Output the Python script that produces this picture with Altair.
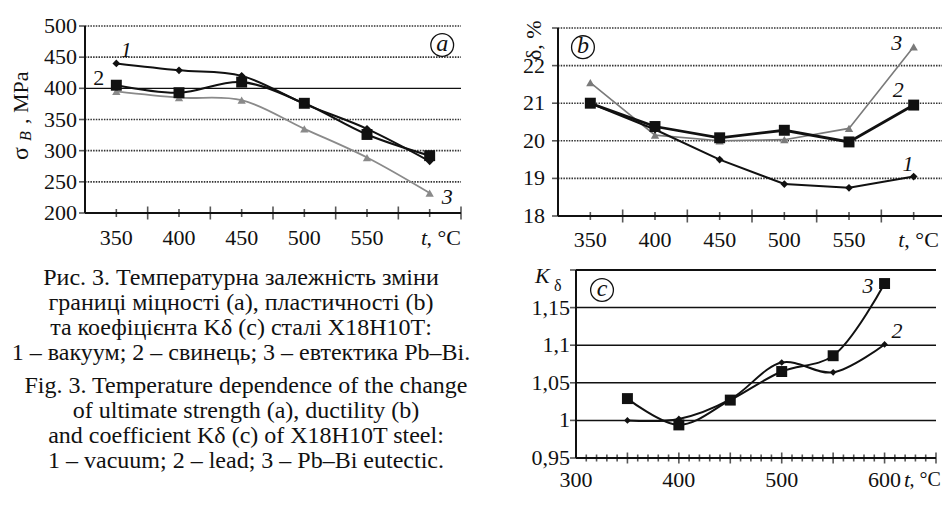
import altair as alt
import pandas as pd

# ---------------- data ----------------
temps = [350, 400, 450, 500, 550, 600]

# (a) ultimate strength, MPa
a_vacuum = [440, 429, 420, 375, 335, 283]
a_lead = [405, 393, 410, 376, 326, 292]
a_pbbi = [395, 385, 381, 335, 289, 232]

# (b) ductility, %
b_vacuum = [21.0, 20.3, 19.5, 18.85, 18.75, 19.05]
b_lead = [21.0, 20.38, 20.08, 20.28, 19.97, 20.95]
b_pbbi = [21.55, 20.15, 20.0, 20.03, 20.33, 22.5]

# (c) coefficient K_delta
c_lead = [1.0, 1.002, 1.028, 1.077, 1.064, 1.101]
c_pbbi = [1.029, 0.994, 1.027, 1.065, 1.086, 1.182]

# axes: ticks, grid, labels
a_ygrid_dotted = [250, 300, 350, 450, 500]
a_ygrid_solid = [400]
a_ylabels = [200, 250, 300, 350, 400, 450, 500]
a_xlabels = [350, 400, 450, 500, 550]
a_xticks_major = [350, 400, 450, 500, 550, 600]
a_xticks_minor = [375, 425, 475, 525, 575, 625]

b_ygrid = [19, 20, 21, 22, 23]
b_ylabels = [18, 19, 20, 21, 22]
b_xlabels = [350, 400, 450, 500, 550]

c_ygrid = [1.0, 1.05, 1.1, 1.15]
c_ytop = [1.2]
c_yticks = [0.95, 1.0, 1.05, 1.1, 1.15, 1.2]
c_ylabels = ["0,95", "1", "1,05", "1,1", "1,15"]
c_ylabel_vals = [0.95, 1.0, 1.05, 1.1, 1.15]
c_xlabels = [300, 400, 500, 600]
c_xticks_small = [t for t in range(310, 650, 10) if t % 50 != 0]
c_xticks_big = [350, 400, 450, 500, 550, 600, 650]

caption_uk = ["Рис. 3. Температурна залежність зміни",
              "границі міцності (a), пластичності (b)",
              "та коефіцієнта Kδ (c) сталі Х18Н10Т:",
              "1 – вакуум; 2 – свинець; 3 – евтектика Pb–Bi."]
caption_en = ["Fig. 3. Temperature dependence of the change",
              "of ultimate strength (a), ductility (b)",
              "and coefficient Kδ (c) of X18H10T steel:",
              "1 – vacuum; 2 – lead; 3 – Pb–Bi eutectic."]

FONT = "Liberation Serif"
BLACK = "#111111"
GRAY = "#8a8a8a"

# ---------------- scales (one per panel, placed on a single canvas) ----------------
XA = alt.Scale(domain=[325, 625], range=[77, 453], nice=False, zero=False)
YA = alt.Scale(domain=[200, 500], range=[205, 18], nice=False, zero=False)
XB = alt.Scale(domain=[325, 625], range=[550, 938], nice=False, zero=False)
YB = alt.Scale(domain=[18, 23], range=[208, 20], nice=False, zero=False)
XC = alt.Scale(domain=[300, 650], range=[568, 928], nice=False, zero=False)
YC = alt.Scale(domain=[0.95, 1.2], range=[450, 262], nice=False, zero=False)

one = pd.DataFrame({"d": [0]})


def xf(f, s):
    return alt.X(f, type="quantitative", scale=s, axis=None)


def yf(f, s):
    return alt.Y(f, type="quantitative", scale=s, axis=None)


def xd(v, s):
    return alt.XDatum(v, type="quantitative", scale=s, axis=None)


def yd(v, s):
    return alt.YDatum(v, type="quantitative", scale=s, axis=None)


layers = []


def series(xs, ys, vals, color, width, shape, msize, interp):
    df = pd.DataFrame({"t": temps, "v": vals})
    base = alt.Chart(df).encode(x=xf("t:Q", xs), y=yf("v:Q", ys))
    layers.append(base.mark_line(color=color, strokeWidth=width, interpolate=interp))
    layers.append(base.mark_point(shape=shape, size=msize, filled=True,
                                  color=color, opacity=1))


def hgrid(vals, xs, ys, x0, x1, **style):
    df = pd.DataFrame({"v": vals})
    layers.append(alt.Chart(df).mark_rule(**style).encode(
        x=xd(x0, xs), x2=alt.X2Datum(x1), y=yf("v:Q", ys)))


def axis_lines(xs, ys, x0, x1, y0, y1, width=2):
    layers.append(alt.Chart(one).mark_rule(color=BLACK, strokeWidth=width).encode(
        x=xd(x0, xs), x2=alt.X2Datum(x1), y=yd(y0, ys)))
    layers.append(alt.Chart(one).mark_rule(color=BLACK, strokeWidth=width).encode(
        x=xd(x0, xs), y=yd(y0, ys), y2=alt.Y2Datum(y1)))


def xticks(vals, xs, ys, y0, size):
    df = pd.DataFrame({"v": vals})
    layers.append(alt.Chart(df).mark_tick(orient="vertical", size=size, thickness=1.6,
                                          color=BLACK).encode(
        x=xf("v:Q", xs), y=yd(y0, ys)))


def yticks(vals, xs, ys, x0, size=6):
    df = pd.DataFrame({"v": vals})
    layers.append(alt.Chart(df).mark_tick(orient="horizontal", size=size, thickness=1.6,
                                          color=BLACK, xOffset=-size / 2).encode(
        x=xd(x0, xs), y=yf("v:Q", ys)))


def xlabels(vals, xs, ys, y0, dy, texts=None):
    df = pd.DataFrame({"v": vals, "s": texts if texts else [str(v) for v in vals]})
    layers.append(alt.Chart(df).mark_text(font=FONT, fontSize=22, color=BLACK,
                                          align="center", baseline="middle", dy=dy).encode(
        x=xf("v:Q", xs), y=yd(y0, ys), text="s:N"))


def ylabels(vals, xs, ys, x0, dx, texts=None):
    df = pd.DataFrame({"v": vals, "s": texts if texts else [str(v) for v in vals]})
    layers.append(alt.Chart(df).mark_text(font=FONT, fontSize=22, color=BLACK,
                                          align="right", baseline="middle", dx=dx).encode(
        x=xd(x0, xs), y=yf("v:Q", ys), text="s:N"))


def note(txt, x, y, xs, ys, italic=True, size=22, align="center", baseline="middle",
         dy=0):
    kw = dict(font=FONT, fontSize=size, color=BLACK, align=align, baseline=baseline, dy=dy)
    if italic:
        kw["fontStyle"] = "italic"
    layers.append(alt.Chart(one).mark_text(**kw).encode(
        x=xd(x, xs), y=yd(y, ys), text=alt.value(txt)))


def circled(txt, x, y, xs, ys):
    layers.append(alt.Chart(one).mark_point(shape="circle", size=520, filled=False,
                                            color=BLACK, strokeWidth=1.3, opacity=1).encode(
        x=xd(x, xs), y=yd(y, ys)))
    note(txt, x, y, xs, ys, italic=True, size=24, dy=-1)


def free_text(txt, x, y, size=22, italic=False, angle=0, align="left",
              baseline="alphabetic"):
    kw = dict(font=FONT, fontSize=size, color=BLACK, align=align, baseline=baseline)
    if italic:
        kw["fontStyle"] = "italic"
    if angle:
        kw["angle"] = angle
    layers.append(alt.Chart(one).mark_text(**kw).encode(
        x=alt.value(x), y=alt.value(y), text=alt.value(txt)))


dotted = dict(color="#333333", strokeWidth=1.6, strokeDash=[1.5, 1.2])

# ---------------- panel (a) ----------------
hgrid(a_ygrid_dotted, XA, YA, 325, 625, **dotted)
hgrid(a_ygrid_solid, XA, YA, 325, 625, color=BLACK, strokeWidth=1.4)
axis_lines(XA, YA, 325, 625, 200, 500)
xticks(a_xticks_major, XA, YA, 200, 8)
xticks(a_xticks_minor, XA, YA, 200, 13)
yticks(a_ylabels, XA, YA, 325)
xlabels(a_xlabels, XA, YA, 200, 25)
ylabels(a_ylabels, XA, YA, 325, -8)
note("t", 593, 200, XA, YA, align="left", dy=25)
note(", °C", 597.5, 200, XA, YA, italic=False, align="left", dy=25)
series(XA, YA, a_pbbi, GRAY, 1.8, "triangle-up", 70, "catmull-rom")
series(XA, YA, a_lead, BLACK, 2.2, "square", 120, "catmull-rom")
series(XA, YA, a_vacuum, BLACK, 2.0, "diamond", 60, "catmull-rom")
note("1", 358, 462, XA, YA)
note("2", 336, 417, XA, YA, italic=False)
note("3", 614, 226, XA, YA)
circled("a", 610, 469.5, XA, YA)

# y title (a): sigma_B, MPa
free_text("σ", 20, 152, size=24, angle=270)
free_text("B", 23, 133, size=16, italic=True, angle=270)
free_text(", MPa", 20, 116, size=22, angle=270)

# ---------------- panel (b) ----------------
hgrid(b_ygrid, XB, YB, 325, 625, **dotted)
axis_lines(XB, YB, 325, 625, 18, 23)
xticks(a_xticks_major, XB, YB, 18, 8)
xticks(a_xticks_minor, XB, YB, 18, 13)
yticks(b_ylabels + [23], XB, YB, 325)
xlabels(b_xlabels, XB, YB, 18, 24)
ylabels(b_ylabels, XB, YB, 325, -13)
note("t", 588, 18, XB, YB, align="left", dy=24)
note(", °C", 592.8, 18, XB, YB, italic=False, align="left", dy=24)
series(XB, YB, b_pbbi, "#7a7a7a", 1.6, "triangle-up", 70, "linear")
series(XB, YB, b_vacuum, BLACK, 2.0, "diamond", 60, "linear")
series(XB, YB, b_lead, BLACK, 2.8, "square", 120, "linear")
note("3", 587, 22.6, XB, YB)
note("2", 588, 21.35, XB, YB)
note("1", 595.6, 19.38, XB, YB)
circled("b", 344.3, 22.49, XB, YB)
free_text("δ, %", 533, 52, size=22, angle=270)

# ---------------- panel (c) ----------------
hgrid(c_ygrid, XC, YC, 300, 650, color=BLACK, strokeWidth=1.5)
hgrid(c_ytop, XC, YC, 300, 650, color=BLACK, strokeWidth=2)
axis_lines(XC, YC, 300, 650, 0.95, 1.2)
xticks(c_xticks_small, XC, YC, 0.95, 7)
xticks(c_xticks_big, XC, YC, 0.95, 11)
yticks(c_yticks, XC, YC, 300)
xlabels(c_xlabels, XC, YC, 0.95, 22)
ylabels(c_ylabel_vals, XC, YC, 300, -6, c_ylabels)
note("t", 618.8, 0.95, XC, YC, align="left", dy=22)
note(", °C", 624.3, 0.95, XC, YC, italic=False, size=20, align="left", dy=22)
series(XC, YC, c_lead, BLACK, 2.0, "diamond", 45, "catmull-rom")
series(XC, YC, c_pbbi, BLACK, 2.0, "square", 120, "catmull-rom")
note("3", 583.9, 1.1787, XC, YC)
note("2", 612.1, 1.1189, XC, YC)
circled("c", 325.3, 1.1734, XC, YC)
free_text("K", 527, 275, size=22, italic=True)
free_text("δ", 546, 283, size=16)

# ---------------- caption ----------------
layers.append(alt.Chart(one).mark_text(font=FONT, fontSize=24, color=BLACK, align="center",
                                       baseline="alphabetic", lineBreak="\n",
                                       lineHeight=25).encode(
    x=alt.value(233), y=alt.value(277), text=alt.value("\n".join(caption_uk))))
layers.append(alt.Chart(one).mark_text(font=FONT, fontSize=24, color=BLACK, align="center",
                                       baseline="alphabetic", lineBreak="\n",
                                       lineHeight=25).encode(
    x=alt.value(238), y=alt.value(385), text=alt.value("\n".join(caption_en))))

chart = alt.layer(*layers).resolve_scale(x="independent", y="independent").properties(
    width=934, height=493, padding=0, autosize=alt.AutoSizeParams(type="none"),
    background="white"
).configure(font=FONT).configure_text(font=FONT).configure_view(stroke=None)

chart.save("out.html", embed_options={"renderer": "svg", "actions": False})
